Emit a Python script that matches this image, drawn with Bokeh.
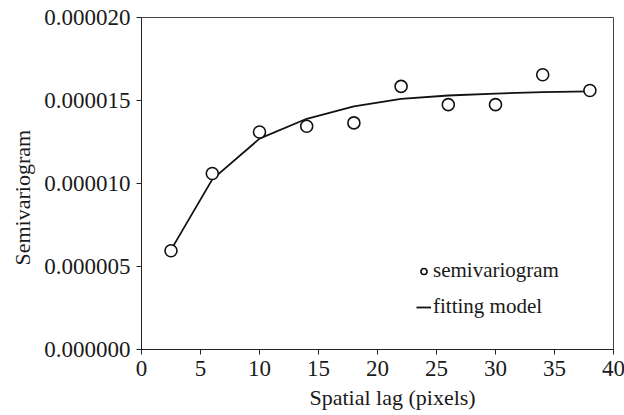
from bokeh.plotting import figure
from bokeh.models import (Range1d, FixedTicker, PrintfTickFormatter, Legend, LegendItem, Title)
from bokeh.embed import file_html
from bokeh.resources import INLINE

# Data
lag = [2.5, 6, 10, 14, 18, 22, 26, 30, 34, 38]
semivariogram = [5.95e-6, 10.6e-6, 13.1e-6, 13.45e-6, 13.65e-6, 15.85e-6, 14.75e-6, 14.75e-6, 16.55e-6, 15.6e-6]
fitting_model = [6.0e-6, 10.25e-6, 12.7e-6, 13.9e-6, 14.65e-6, 15.1e-6, 15.3e-6, 15.42e-6, 15.5e-6, 15.55e-6]
x_ticks = [0, 5, 10, 15, 20, 25, 30, 35, 40]
y_ticks = [0.0, 0.000005, 0.000010, 0.000015, 0.000020]

FONT = "Liberation Serif"
FS = "23px"

p = figure(output_backend="svg", toolbar_location=None,
           frame_width=472, frame_height=332,
           min_border_left=140, min_border_right=12, min_border_top=17, min_border_bottom=10,
           x_range=Range1d(0, 40), y_range=Range1d(0, 0.00002))

p.xgrid.visible = False
p.ygrid.visible = False
p.outline_line_color = "#444444"
p.outline_line_width = 1

for ax in (p.xaxis[0], p.yaxis[0]):
    ax.major_label_text_font = FONT
    ax.major_label_text_font_size = FS
    ax.major_label_text_color = "#1a1a1a"
    ax.major_tick_out = 5
    ax.major_tick_in = 0
    ax.minor_tick_out = 0
    ax.minor_tick_in = 0
    ax.axis_line_color = "#222222"
    ax.major_tick_line_color = "#222222"

p.xaxis.ticker = FixedTicker(ticks=x_ticks)
p.yaxis.ticker = FixedTicker(ticks=y_ticks)
p.yaxis.formatter = PrintfTickFormatter(format="%.6f")
p.xaxis.major_label_standoff = 6
p.yaxis.major_label_standoff = 6

xt = Title(text="Spatial lag (pixels)", align="left", offset=168,
           text_font=FONT, text_font_size="22px", text_font_style="normal",
           text_color="#1a1a1a", standoff=8)
p.add_layout(xt, "below")

yt = Title(text="Semivariogram", align="left", offset=84,
           text_font=FONT, text_font_size="22px", text_font_style="normal",
           text_color="#1a1a1a", standoff=14)
p.add_layout(yt, "left")

line_r = p.line(lag, fitting_model, line_color="#111111", line_width=1.8)
pts_r = p.scatter(lag, semivariogram, marker="circle", size=12,
                  fill_color="white", line_color="#111111", line_width=1.6)

legend = Legend(items=[LegendItem(label="semivariogram", renderers=[pts_r]),
                       LegendItem(label="fitting model", renderers=[line_r])],
                location=(275, 30), padding=0, margin=0, spacing=11,
                glyph_width=15, glyph_height=24, label_height=24, label_standoff=2,
                label_text_font=FONT, label_text_font_size="21px", label_text_color="#1a1a1a",
                border_line_color=None, background_fill_alpha=0)
p.add_layout(legend, "center")

open("out.html", "w").write(file_html(p, INLINE))
